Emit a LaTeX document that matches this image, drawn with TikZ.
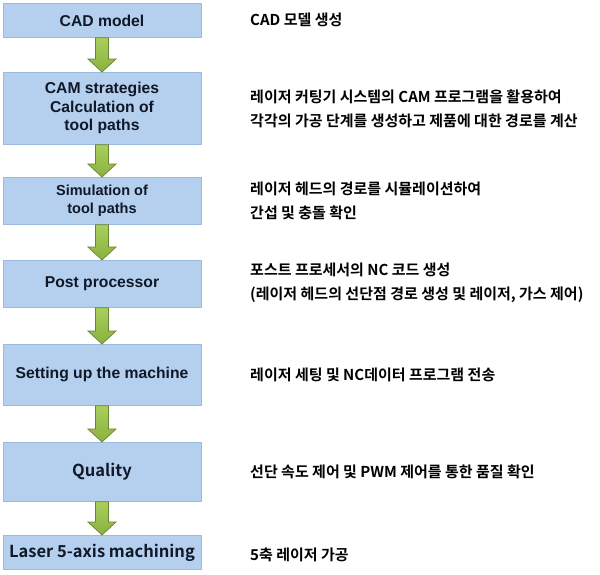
\documentclass[tikz,border=0pt]{standalone}
\usepackage{fontspec}
\setmainfont{Liberation Sans}
\newfontfamily\kr{Noto Sans CJK KR Bold}
\newfontfamily\krb{Noto Sans CJK KR Bold}
\usetikzlibrary{calc}
\definecolor{boxfill}{HTML}{B4D0EE}
\definecolor{boxline}{HTML}{9CBADD}
\definecolor{gtop}{HTML}{AACF5E}
\definecolor{gbot}{HTML}{8AB040}
\definecolor{gline}{HTML}{66852C}
\definecolor{txt}{HTML}{101828}
\tikzset{
  stepbox/.style={rectangle, draw=boxline, line width=0.8pt, fill=boxfill,
    minimum width=198pt, anchor=north, inner sep=0pt, align=center,
    text=txt, font=\fontsize{15.7}{18.5}\selectfont\bfseries},
  krbox/.style={stepbox, font=\kr\fontsize{16.5}{19}\selectfont},
  note/.style={anchor=west, align=left, inner sep=0pt, text=black,
    font=\krb\fontsize{15}{24}\selectfont},
  garrow/.style={draw=gline, line width=0.7pt, top color=gtop, bottom color=gbot, line join=miter}
}
\newcommand{\blockarrow}[2]{%
  \draw[garrow] ($(#1.south)+(-6.5pt,0)$) -- ($(#1.south)+(6.5pt,0)$)
    -- ($(#2.north)+(6.5pt,13pt)$) -- ($(#2.north)+(14pt,13pt)$)
    -- (#2.north) -- ($(#2.north)+(-14pt,13pt)$)
    -- ($(#2.north)+(-6.5pt,13pt)$) -- cycle;}
\begin{document}
\begin{tikzpicture}[x=1pt,y=1pt]
\useasboundingbox (0,0) rectangle (600,-574);
\fill[white] (0,0) rectangle (600,-574);
\node[stepbox, minimum height=34pt] (b1) at (102,-3) {CAD model};
\node[stepbox, minimum height=72pt] (b2) at (102,-72) {CAM strategies\\Calculation of\\tool paths};
\node[stepbox, minimum height=47pt, font=\fontsize{14.5}{18}\selectfont\bfseries] (b3) at (102,-177) {Simulation of\\tool paths};
\node[stepbox, minimum height=47pt] (b4) at (102,-260) {Post processor};
\node[stepbox, minimum height=61pt] (b5) at (102,-344) {Setting up the machine};
\node[krbox, minimum height=59pt] (b6) at (102,-442) {Quality};
\node[krbox, minimum height=34pt] (b7) at (102,-535) {Laser 5-axis machining};
\blockarrow{b1}{b2}
\blockarrow{b2}{b3}
\blockarrow{b3}{b4}
\blockarrow{b4}{b5}
\blockarrow{b5}{b6}
\blockarrow{b6}{b7}
\node[note] (t1) at (250,-20) {CAD 모델 생성};
\node[note] (t2) at (250,-109) {레이저 커팅기 시스템의 CAM 프로그램을 활용하여\\각각의 가공 단계를 생성하고 제품에 대한 경로를 계산};
\node[note] (t3) at (250,-201) {레이저 헤드의 경로를 시뮬레이션하여\\간섭 및 충돌 확인};
\node[note] (t4) at (250,-282.5) {포스트 프로세서의 NC 코드 생성\\(레이저 헤드의 선단점 경로 생성 및 레이저, 가스 제어)};
\node[note] (t5) at (250,-375) {레이저 세팅 및 NC데이터 프로그램 전송};
\node[note] (t6) at (250,-472) {선단 속도 제어 및 PWM 제어를 통한 품질 확인};
\node[note] (t7) at (250,-555) {5축 레이저 가공};
\end{tikzpicture}
\end{document}
